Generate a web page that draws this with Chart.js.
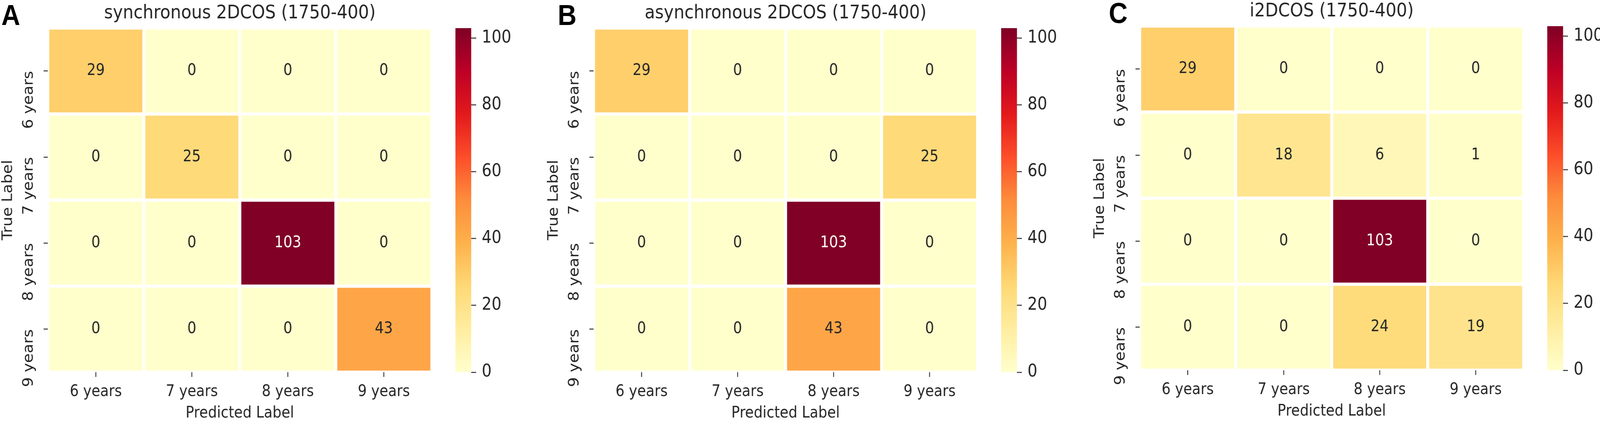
<!DOCTYPE html>
<html>
<head>
<meta charset="utf-8">
<script src="https://cdn.jsdelivr.net/npm/chart.js@4.4.1/dist/chart.umd.min.js"></script>
<style>
  html, body { margin: 0; padding: 0; background: #fff; overflow: hidden; }
  #frame { position: relative; width: 100vw; height: 100vh; overflow: hidden; background: #fff; }
  #wrap { position: absolute; left: 0; top: 0; width: 4550px; height: 1083px; background: #fff; transform-origin: 0 0; }
  #wrap canvas { position: absolute; }
  .letter { position: absolute; font: bold 74px "Liberation Sans", Arial, sans-serif; line-height: 74px; color: #000; }
</style>
</head>
<body>
<div id="frame"><div id="wrap"></div></div>
<script>
// axis labels
const predLabels = ['6 years', '7 years', '8 years', '9 years'];
const trueLabels = ['6 years', '7 years', '8 years', '9 years'];

// confusion matrices, rows = true label, cols = predicted label
const syncMatrix  = [[29, 0, 0, 0], [0, 25, 0, 0], [0, 0, 103, 0], [0, 0, 0, 43]];
const asyncMatrix = [[29, 0, 0, 0], [0, 0, 0, 25], [0, 0, 103, 0], [0, 0, 43, 0]];
const i2dMatrix   = [[29, 0, 0, 0], [0, 18, 6, 1], [0, 0, 103, 0], [0, 0, 24, 19]];

const panelTitles = ['synchronous 2DCOS (1750-400)', 'asynchronous 2DCOS (1750-400)', 'i2DCOS (1750-400)'];
const panelLetters = ['A', 'B', 'C'];
const colorbarTicks = [0, 20, 40, 60, 80, 100];
const vmax = 103;

// layout bits
const panelLeft = [0, 1552, 3105];
const panelTop = [0, 0, -5];
const letterLeft = [4, 1586, 3153];
const textColor = '#262626';
const tickColor = '#333333';
const font = 'DejaVu Sans';

// the window can come out narrower than 4550px, so squeeze the figure into it
const wrap = document.getElementById('wrap');
const sx = window.innerWidth / 4550, sy = window.innerHeight / 1083;
if (Math.abs(sx - 1) > 0.002 || Math.abs(sy - 1) > 0.002) {
  wrap.style.transform = 'scale(' + sx + ',' + sy + ')';
}

// matplotlib YlOrRd
const ylOrRdStops = ['#ffffcc', '#ffeda0', '#fed976', '#feb24c', '#fd8d3c', '#fc4e2a', '#e31a1c', '#bd0026', '#800026'];

function hexToRgb(h) {
  return [parseInt(h.substr(1, 2), 16), parseInt(h.substr(3, 2), 16), parseInt(h.substr(5, 2), 16)];
}

function ylOrRd(t) {
  t = Math.max(0, Math.min(1, t));
  const n = ylOrRdStops.length - 1;
  const k = Math.min(Math.floor(t * n), n - 1);
  const f = t * n - k;
  const a = hexToRgb(ylOrRdStops[k]), b = hexToRgb(ylOrRdStops[k + 1]);
  const c = a.map((v, j) => Math.round(v + (b[j] - v) * f));
  return 'rgb(' + c.join(',') + ')';
}

// numbers inside the cells
const cellText = {
  id: 'cellText',
  afterDatasetsDraw(chart) {
    const ctx = chart.ctx;
    ctx.save();
    ctx.font = '40px "' + font + '"';
    ctx.textAlign = 'center';
    ctx.textBaseline = 'middle';
    chart.data.datasets.forEach((ds, d) => {
      chart.getDatasetMeta(d).data.forEach((bar, c) => {
        const v = ds.values[c];
        const p = bar.getCenterPoint();
        ctx.fillStyle = v / vmax > 0.6 ? '#ffffff' : textColor;
        ctx.fillText(String(v), p.x, p.y);
      });
    });
    ctx.restore();
  }
};

function addCanvas(left, top, w, h) {
  const c = document.createElement('canvas');
  c.width = w; c.height = h;
  c.style.left = left + 'px';
  c.style.top = top + 'px';
  wrap.appendChild(c);
  return c;
}

function makePanel(i, matrix) {
  const left = panelLeft[i], top = panelTop[i];

  const letter = document.createElement('div');
  letter.className = 'letter';
  letter.textContent = panelLetters[i];
  letter.style.left = letterLeft[i] + 'px';
  letter.style.top = (2 + top) + 'px';
  wrap.appendChild(letter);

  const heat = addCanvas(left, top, 1260, 1083);
  new Chart(heat, {
    type: 'bar',
    data: {
      labels: predLabels,
      datasets: matrix.map((row, r) => ({
        data: row.map(() => [r, r + 1]),
        values: row,
        backgroundColor: row.map(v => ylOrRd(v / vmax)),
        borderColor: '#ffffff',
        borderWidth: 4.5,
        borderSkipped: false,
        grouped: false,
        barPercentage: 1,
        categoryPercentage: 1
      }))
    },
    options: {
      responsive: false,
      animation: false,
      devicePixelRatio: 1,
      layout: { padding: { left: 0, right: 32, top: 0, bottom: 0 } },
      plugins: {
        legend: { display: false },
        tooltip: { enabled: false },
        title: {
          display: true,
          text: panelTitles[i],
          fullSize: false,
          color: textColor,
          font: { family: font, size: 48, weight: 'normal' },
          padding: { top: 6, bottom: 8 }
        }
      },
      scales: {
        x: {
          grid: { offset: false, drawOnChartArea: false, tickLength: 12, tickWidth: 2.5, tickColor: tickColor },
          border: { display: false },
          ticks: { padding: 15, color: textColor, font: { family: font, size: 40 } },
          title: { display: true, text: 'Predicted Label', padding: 0, color: textColor, font: { family: font, size: 40 } },
          afterFit: s => { s.height = 130; }
        },
        y: {
          min: 0,
          max: 4,
          reverse: true,
          afterBuildTicks: s => { s.ticks = trueLabels.map((_, k) => ({ value: k + 0.5 })); },
          grid: { drawOnChartArea: false, tickLength: 12, tickWidth: 2.5, tickColor: tickColor },
          border: { display: false },
          ticks: {
            minRotation: 90, maxRotation: 90, autoSkip: false, padding: 41,
            color: textColor, font: { family: font, size: 40 },
            callback: v => trueLabels[Math.floor(v)]
          },
          title: { display: true, text: 'True Label', padding: 0, color: textColor, font: { family: font, size: 40 } },
          afterFit: s => { s.width = 136; }
        }
      }
    },
    plugins: [cellText]
  });

  // colour bar
  const cb = addCanvas(left + 1290, top, 200, 1083);
  new Chart(cb, {
    type: 'bar',
    data: {
      labels: [''],
      datasets: [{
        data: [[0, vmax]],
        backgroundColor: ctx => {
          const chart = ctx.chart;
          if (!chart.chartArea) return ylOrRdStops[0];
          const ys = chart.scales.y;
          const g = chart.ctx.createLinearGradient(0, ys.getPixelForValue(0), 0, ys.getPixelForValue(vmax));
          ylOrRdStops.forEach((c, k) => g.addColorStop(k / (ylOrRdStops.length - 1), c));
          return g;
        },
        borderWidth: 0,
        barPercentage: 1,
        categoryPercentage: 1
      }]
    },
    options: {
      responsive: false,
      animation: false,
      devicePixelRatio: 1,
      layout: { padding: { left: 5, right: 0, top: 72, bottom: 130 } },
      plugins: { legend: { display: false }, tooltip: { enabled: false } },
      scales: {
        x: { display: false },
        y: {
          position: 'right',
          min: 0,
          max: vmax,
          afterBuildTicks: s => { s.ticks = colorbarTicks.map(v => ({ value: v })); },
          grid: { drawOnChartArea: false, tickLength: 14, tickWidth: 2.5, tickColor: tickColor },
          border: { display: false },
          ticks: { padding: 16, color: textColor, font: { family: font, size: 44 } },
          afterFit: s => { s.width = 150; }
        }
      }
    }
  });
}

makePanel(0, syncMatrix);
makePanel(1, asyncMatrix);
makePanel(2, i2dMatrix);
</script>
</body>
</html>
